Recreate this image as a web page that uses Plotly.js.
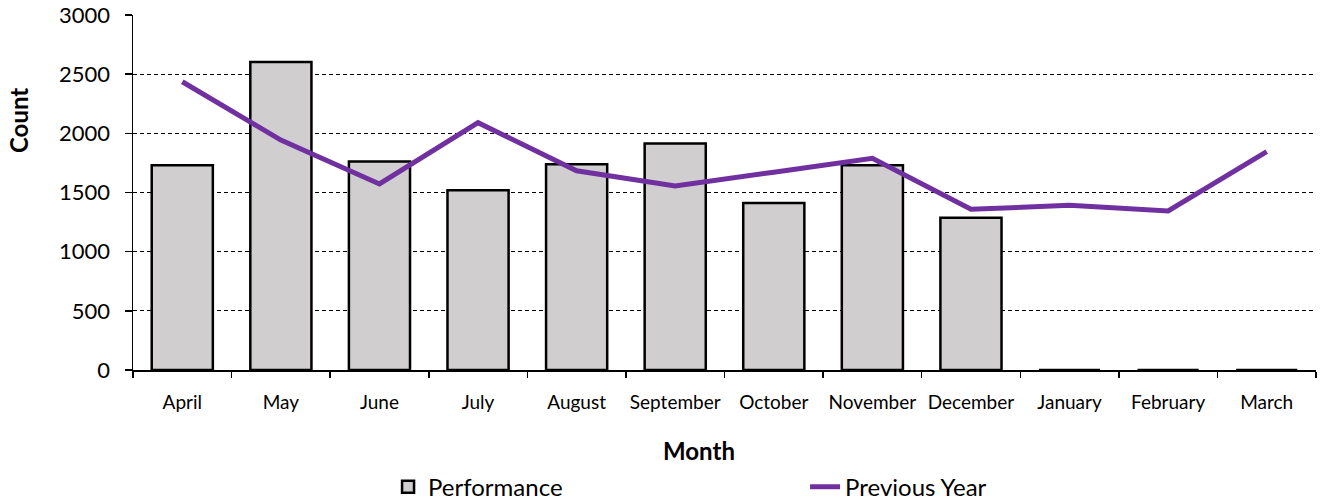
<!DOCTYPE html>
<html>
<head>
<meta charset="utf-8">
<script src="https://cdn.plot.ly/plotly-3.0.1.min.js"></script>
<style>html,body{margin:0;padding:0;background:#fff;}#chart{width:1322px;height:501px;}</style>
</head>
<body>
<div id="chart"></div>
<script>
const months = ["April","May","June","July","August","September","October","November","December","January","February","March"];
const performance = [1730, 2603, 1763, 1518, 1738, 1915, 1411, 1730, 1287, 0, 0, 0];
const previousYear = [2436, 1943, 1572, 2090, 1684, 1555, 1672, 1789, 1358, 1392, 1344, 1845];
const yTicks = [0, 500, 1000, 1500, 2000, 2500, 3000];

const FONT = "Lato, 'Open Sans', sans-serif";

const traces = [
  {
    type: "bar",
    name: "Performance",
    x: months,
    y: performance,
    width: 0.62,
    marker: {color: "#D0CECF", line: {color: "#000000", width: 2.5}},
    hoverinfo: "x+y"
  },
  {
    type: "scatter",
    mode: "lines",
    name: "Previous Year",
    x: months,
    y: previousYear,
    line: {color: "#7030A0", width: 5},
    hoverinfo: "x+y"
  }
];

const layout = {
  width: 1322,
  height: 501,
  margin: {l: 133, r: 6, t: 15, b: 131, autoexpand: false},
  paper_bgcolor: "#ffffff",
  plot_bgcolor: "#ffffff",
  font: {family: FONT, color: "#000000"},
  showlegend: true,
  legend: {
    orientation: "h",
    x: 0.2156,
    xanchor: "left",
    y: -0.33,
    yanchor: "middle",
    font: {family: FONT, size: 24, color: "#000000"},
    entrywidth: 372,
    entrywidthmode: "pixels",
    traceorder: "normal"
  },
  xaxis: {
    type: "category",
    showline: true,
    linecolor: "#000000",
    linewidth: 1.5,
    ticks: "outside",
    tickson: "boundaries",
    ticklen: 6,
    tickcolor: "#000000",
    tickwidth: 1.5,
    showgrid: false,
    tickangle: 0,
    ticklabelstandoff: 15,
    tickfont: {family: FONT, size: 19, color: "#000000"},
    automargin: false
  },
  yaxis: {
    range: [0, 3000],
    tickvals: yTicks,
    ticktext: yTicks.map(String),
    showline: true,
    linecolor: "#000000",
    linewidth: 1.5,
    ticks: "outside",
    ticklen: 7,
    tickcolor: "#000000",
    tickwidth: 1.5,
    showgrid: true,
    gridcolor: "#000000",
    gridwidth: 1,
    griddash: "4px,3px",
    zeroline: false,
    ticklabelstandoff: 10,
    tickfont: {family: FONT, size: 22, color: "#000000"},
    automargin: false
  },
  annotations: [
    {
      text: "<b>Month</b>",
      xref: "paper", yref: "paper",
      x: (699 - 133) / 1183, y: -(451 - 370) / 355,
      xanchor: "center", yanchor: "middle",
      showarrow: false,
      font: {family: FONT, size: 24, color: "#000000"}
    },
    {
      text: "<b>Count</b>",
      xref: "paper", yref: "paper",
      x: -(133 - 18) / 1183, y: (370 - 121) / 355,
      xanchor: "center", yanchor: "middle",
      textangle: -90,
      showarrow: false,
      font: {family: FONT, size: 24, color: "#000000"}
    }
  ]
};

Plotly.newPlot("chart", traces, layout, {displayModeBar: false, staticPlot: true});
</script>
</body>
</html>
